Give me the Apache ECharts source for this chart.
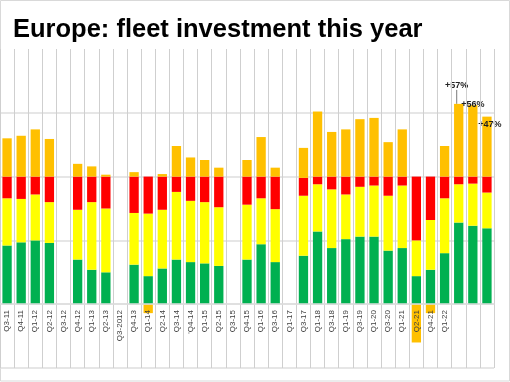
<!DOCTYPE html>
<html>
<head>
<meta charset="utf-8">
<script src="https://cdn.jsdelivr.net/npm/echarts@6/dist/echarts.min.js"></script>
<style>html,body{margin:0;padding:0;background:#fff}#c{width:510px;height:382px}</style>
</head>
<body>
<div id="c"></div>
<script>
var categories = ['Q3-11','Q4-11','Q1-12','Q2-12','Q3-12','Q4-12','Q1-13','Q2-13','Q3-2012','Q4-13','Q1-14','Q2-14',
  'Q3-14',"'Q4-14",'Q1-15','Q2-15','Q3-15','Q4-15','Q1-16','Q3-16','Q1-17','Q3-17','Q1-18','Q3-18',
  'Q1-19','Q3-19','Q1-20','Q3-20','Q1-21','Q2-21','Q4-21','Q1-22','Q2-22','Q3-22','Q4-22'];
var hiddenLabels = ['Q2-22','Q3-22','Q4-22'];
var green  = [46,48.5,50,48,null,35,27,25,null,31,22,28, 35,33,32,30,null,35,47,33,null,38,57,44, 51,53,53,42,44,22,27,40,64,61.5,59.5];
var yellow = [37,34,36,32,null,39,53,50,null,40.5,49,46, 53,48,48,46,null,43,36,41.5,null,47,37,46, 35,39,40,43,49,28,39,43,30,33,28];
var red    = [17,17.5,14,20,null,26,20,25,null,28.5,29,26, 12,19,20,24,null,22,17,25.5,null,14,6,10, 14,8,7,15,7,50,34,17,6,5.5,12.5];
var netBalance = [30,32,37,29.5,null,10,8,1.5,null,3.5,-7,2, 24,15,13,7,null,13,31,7,null,23.5,51,35, 37,45,46,27,37,-30,-7,24,57,56,47];
var labelled = [32,33,34];

var chart = echarts.init(document.getElementById('c'), null, {renderer:'canvas'});
var orangeData = netBalance.map(function(v,i){
  if (labelled.indexOf(i) >= 0) {
    var item = {value:v, label:{show:true}};
    if (i === 32) item.labelLine = {show:true, lineStyle:{color:'#555', width:0.8}};
    return item;
  }
  return v;
});
var barW = '66%';
chart.setOption({
  animation:false,
  title:{text:'Europe: fleet investment this year', left:8, top:12,
    textStyle:{fontFamily:'Liberation Sans, Arial, sans-serif', fontWeight:'bold', fontSize:25.5, color:'#000'}},
  graphic:[{type:'rect', shape:{x:0.5,y:0.5,width:509,height:380.5}, style:{fill:'none', stroke:'#d9d9d9', lineWidth:1}, silent:true}],
  grid:{left:0, right:16, top:49, bottom:14, containLabel:false, outerBoundsMode:'none'},
  xAxis:{type:'category', data:categories, z:10, offset:-64,
    axisLine:{show:true, onZero:false, lineStyle:{color:'#dedede', width:1.5}}, axisTick:{show:false},
    splitLine:{show:true, lineStyle:{color:'#cfcfcf', width:1}},
    axisLabel:{interval:0, rotate:90, fontSize:8, color:'#404040', margin:6, fontFamily:'Liberation Sans, Arial, sans-serif',
      formatter:function(v){ return hiddenLabels.indexOf(v) >= 0 ? '' : v; }}},
  yAxis:{type:'value', min:-50, max:200, interval:50,
    axisLabel:{show:false}, axisLine:{show:false}, axisTick:{show:false},
    splitLine:{show:true, showMaxLine:false, lineStyle:{color:'#dedede', width:1.5}}},
  series:[
    {name:'green', type:'bar', stack:'s', data:green, barWidth:barW, itemStyle:{color:'#00b050'}},
    {name:'yellow', type:'bar', stack:'s', data:yellow, barWidth:barW, itemStyle:{color:'#ffff00'}},
    {name:'red', type:'bar', stack:'s', data:red, barWidth:barW, itemStyle:{color:'#ff0000'}},
    {name:'orange', type:'bar', stack:'s', data:orangeData, barWidth:barW, itemStyle:{color:'#ffc000'},
      label:{show:false, position:'top', formatter:'+{c}%', fontSize:9, fontWeight:'bold', color:'#222', fontFamily:'Liberation Sans, Arial, sans-serif'},
      labelLayout:function(p){
        if (p.dataIndex === 32) return {dx:-2, dy:-9};
        if (p.dataIndex === 33) return {dx:0, dy:9};
        if (p.dataIndex === 34) return {dx:3, dy:17};
        return {};
      }}
  ]
});
</script>
</body>
</html>
